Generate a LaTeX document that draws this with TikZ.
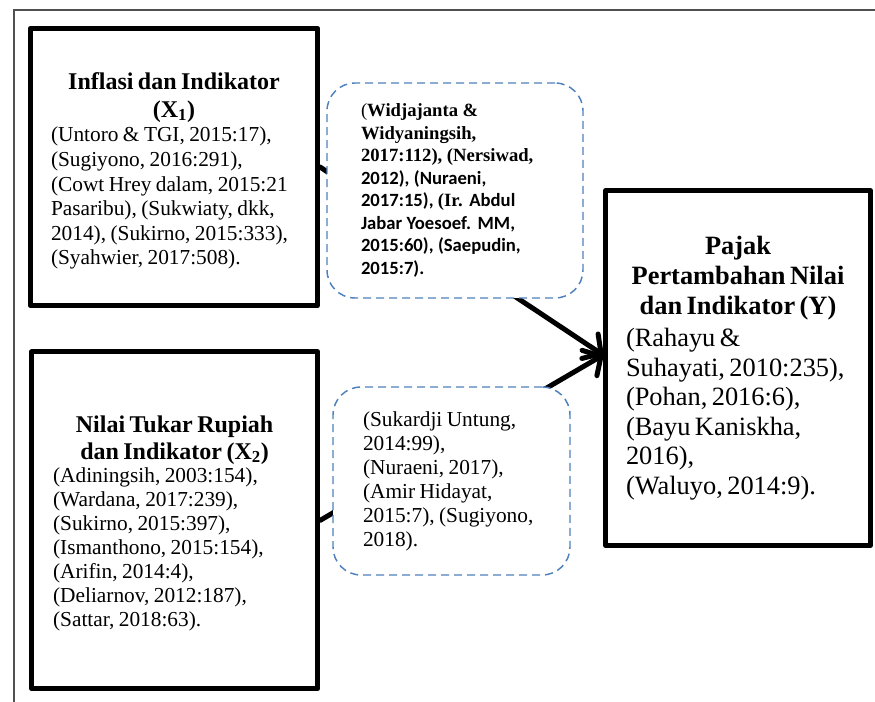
\documentclass[tikz,border=0pt]{standalone}
\usepackage{fontspec}
\setmainfont{Liberation Serif}
\newfontfamily\calibfont{Carlito}
\usetikzlibrary{arrows.meta,calc}
\definecolor{dashblue}{RGB}{79,129,189}
\definecolor{framegray}{RGB}{80,80,80}
\begin{document}
\begin{tikzpicture}[x=0.75pt,y=-0.75pt,
  bigbox/.style={draw, line width=3.75pt, rectangle, line join=round, inner sep=0pt, fill=white, align=left},
  citebox/.style={draw=dashblue, line width=1.1pt, dash pattern=on 6pt off 3.75pt, rounded corners=21pt, fill=white, inner sep=0pt, align=left},
  link/.style={line width=3.75pt, line cap=round, -{Straight Barb[length=10pt,width=22pt,line cap=round,line join=round]}},
  frameline/.style={draw=framegray, line width=1.5pt}]
\useasboundingbox (0,0) rectangle (875,702);
\draw[frameline] (13.8,702) -- (13.8,10.5) -- (875,10.5);

\node[bigbox, minimum width=215.25pt, minimum height=208.1pt, text width=184.5pt] (x1) at (174,167)
{{\centering\fontsize{18}{21}\selectfont\bfseries \rule{0pt}{18.5pt}Inflasi dan Indikator\\(X\textsubscript{1})\par}
{\fontsize{16}{18.4}\selectfont (Untoro \& TGI, 2015:17),\\(Sugiyono, 2016:291),\\(Cowt Hrey dalam, 2015:21\\Pasaribu), (Sukwiaty, dkk,\\2014), (Sukirno, 2015:333),\\(Syahwier, 2017:508).\par}};

\node[bigbox, minimum width=214.5pt, minimum height=252.75pt, text width=182.25pt] (x2) at (174.6,520.4)
{{\centering\fontsize{18}{20.3}\selectfont\bfseries \rule{0pt}{16.5pt}Nilai Tukar Rupiah\\dan Indikator (X\textsubscript{2})\par}
{\fontsize{16}{17.9}\selectfont (Adiningsih, 2003:154),\\(Wardana, 2017:239),\\(Sukirno, 2015:397),\\(Ismanthono, 2015:154),\\(Arifin, 2014:4),\\(Deliarnov, 2012:187),\\(Sattar, 2018:63).\par}};

\node[bigbox, minimum width=198.5pt, minimum height=266pt, text width=168pt] (y) at (738,368)
{{\centering\fontsize{19.8}{22.5}\selectfont\bfseries Pajak\\Pertambahan Nilai\\dan Indikator (Y)\par}
\vspace{2pt}
{\fontsize{19.8}{22.2}\selectfont (Rahayu \&\\Suhayati, 2010:235),\\(Pohan, 2016:6),\\(Bayu Kaniskha,\\2016),\\(Waluyo, 2014:9).\par}};

\draw[link] (x1.east) -- ($(y.west)+(0,-13)$);
\draw[link] (x2.east) -- ($(y.west)+(0,-13)$);

\node[citebox, minimum width=192pt, minimum height=161.25pt, text width=141pt] (c1) at (455,190.5)
{\fontsize{14}{16.9}\selectfont (\textbf{Widjajanta \&}\\\textbf{Widyaningsih,}\\\textbf{2017:112), (Nersiwad,}\\{\calibfont\bfseries 2012), (Nuraeni,}\\{\calibfont\bfseries 2017:15), }\textbf{(Ir.} {\calibfont\bfseries Abdul}\\{\calibfont\bfseries Jabar Yoesoef. MM,}\\{\calibfont\bfseries 2015:60), (Saepudin,}\\{\calibfont\bfseries 2015:7).}\par};

\node[citebox, minimum width=177.75pt, minimum height=141pt, text width=132.75pt] (c2) at (451.5,481)
{\fontsize{16}{18}\selectfont (Sukardji Untung,\\2014:99),\\(Nuraeni, 2017),\\(Amir Hidayat,\\2015:7), (Sugiyono,\\2018).\par};
\end{tikzpicture}
\end{document}
